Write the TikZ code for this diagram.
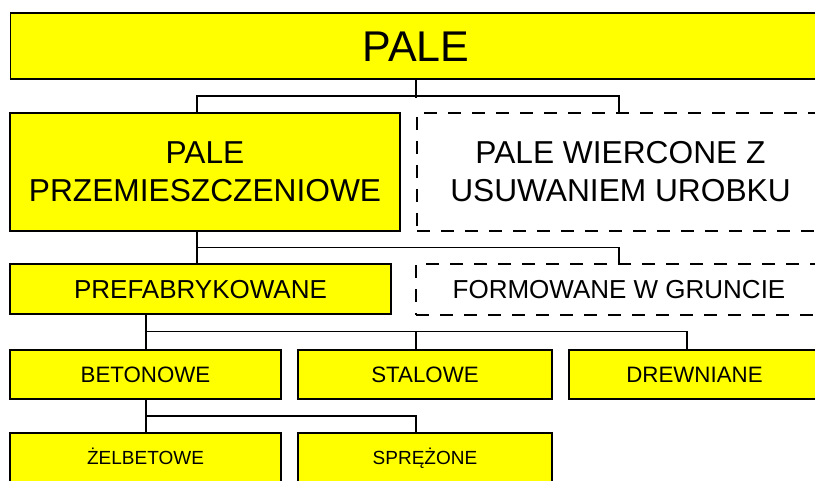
\documentclass[tikz,border=0pt]{standalone}
\usepackage{fontspec}
\setmainfont{Liberation Sans}
\definecolor{boxyellow}{RGB}{255,255,0}
\begin{document}
\begin{tikzpicture}[x=1pt,y=-1pt,
  base/.style={rectangle, line width=1.8pt, inner sep=0pt, align=center, text=black},
  solidbox/.style={base, draw=black, fill=boxyellow},
  dashbox/.style={base, draw=black, fill=white, dash pattern=on 13pt off 11pt},
  conn/.style={draw=black, line width=1.7pt},
  fA/.style={font=\fontsize{43}{50}\selectfont, text height=30.8pt, text depth=0pt},
  fB/.style={font=\fontsize{31.7}{38}\selectfont},
  fC/.style={font=\fontsize{26}{31}\selectfont, text height=18.6pt, text depth=0pt},
  fD/.style={font=\fontsize{22.3}{27}\selectfont, text height=16pt, text depth=0pt},
  fE/.style={font=\fontsize{19}{23}\selectfont, text height=13.6pt, text depth=0pt}]
\useasboundingbox (0,0) rectangle (815,480);
\clip (0,0) rectangle (815,480);
\fill[white] (0,0) rectangle (815,480);
% nodes
\node[solidbox, fA, minimum width=811pt, minimum height=66pt] (pale) at (416,46) {PALE};
\node[solidbox, fB, minimum width=390pt, minimum height=118pt] (przem) at (205,172) {PALE\\PRZEMIESZCZENIOWE};
\node[dashbox, fB, minimum width=407pt, minimum height=118pt] (wierc) at (620.5,172) {PALE WIERCONE Z\\USUWANIEM UROBKU};
\node[solidbox, fC, minimum width=381pt, minimum height=50pt] (prefab) at (200.5,289) {PREFABRYKOWANE};
\node[dashbox, fC, minimum width=406pt, minimum height=51pt] (formow) at (619,289.5) {FORMOWANE W GRUNCIE};
\node[solidbox, fD, minimum width=271pt, minimum height=49pt] (beton) at (145.5,374.5) {BETONOWE};
\node[solidbox, fD, minimum width=254pt, minimum height=49pt] (stal) at (425,374.5) {STALOWE};
\node[solidbox, fD, minimum width=251pt, minimum height=49pt] (drewn) at (694.5,374.5) {DREWNIANE};
\node[solidbox, fE, minimum width=271pt, minimum height=49pt] (zelb) at (145.5,457.5) {ŻELBETOWE};
\node[solidbox, fE, minimum width=254pt, minimum height=49pt] (sprez) at (425,457.5) {SPRĘŻONE};
% connectors
\draw[conn] (pale.south) -- ++(0,17.7);
\draw[conn] ([xshift=-8.3pt]przem.north) -- ++(0,-16.3) -| ([xshift=-1.2pt]wierc.north);
\draw[conn] ([xshift=-8.3pt]przem.south) -- ([xshift=-3.8pt]prefab.north);
\draw[conn] ([xshift=-3.8pt]prefab.north) ++(0,-15.7) -| ([xshift=0.3pt]formow.north);
\draw[conn] ([xshift=-54.5pt]prefab.south) -- ([xshift=0.5pt]beton.north);
\draw[conn] ([xshift=0.5pt]beton.north) ++(0,-17.7) -| ([xshift=-7.8pt]drewn.north);
\draw[conn] ([xshift=-9pt]stal.north) -- ++(0,-17.7);
\draw[conn] ([xshift=0.5pt]beton.south) -- ([xshift=0.5pt]zelb.north);
\draw[conn] ([xshift=0.5pt]zelb.north) ++(0,-16.3) -| ([xshift=-9pt]sprez.north);
\end{tikzpicture}
\end{document}
